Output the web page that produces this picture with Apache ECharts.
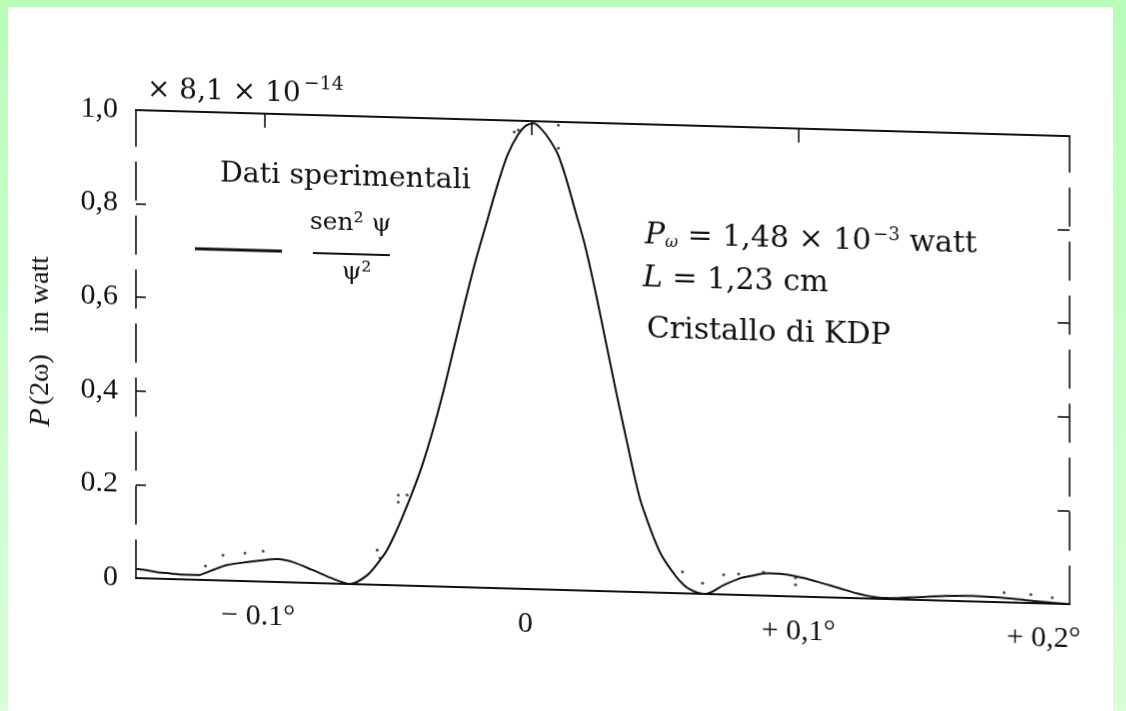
<!DOCTYPE html>
<html>
<head>
<meta charset="utf-8">
<script src="https://cdn.jsdelivr.net/npm/echarts@6/dist/echarts.min.js"></script>
<style>
  html, body { margin: 0; padding: 0; width: 1126px; height: 711px; overflow: hidden;
    background: linear-gradient(#b9fdb9, #d9fed9); }
  #sheet { position: absolute; left: 8px; top: 7px; right: 13px; bottom: 0; background: #fff; }
  #chart { position: absolute; left: 0; top: 0; width: 1126px; height: 711px;
    transform: skewY(1.6deg); transform-origin: 563px 355px; }
</style>
</head>
<body>
<div id="sheet"></div>
<div id="chart"></div>
<script>
// Second-harmonic power versus crystal angle: measured points and the sen²ψ/ψ² curve.
const SERIF = "'DejaVu Serif', serif";
const NUMF = "'Liberation Serif', serif";
const INK = '#111';

// angle (degrees) and normalised power of the theoretical curve
const psiDeg = [
  -0.148, -0.145, -0.140, -0.135, -0.130, -0.125, -0.120, -0.114, -0.106, -0.100,
  -0.095, -0.089, -0.082, -0.075, -0.070, -0.068, -0.0614, -0.0566, -0.054, -0.051,
  -0.048, -0.0445, -0.041, -0.037, -0.033, -0.029, -0.025, -0.021, -0.017, -0.013,
  -0.009, -0.005, -0.002, 0.001, 0.004, 0.007, 0.010, 0.013, 0.0165, 0.020,
  0.024, 0.028, 0.032, 0.036, 0.0385, 0.0408, 0.043, 0.0457, 0.0483, 0.051,
  0.0532, 0.0558, 0.0584, 0.062, 0.0652, 0.072, 0.0783, 0.082, 0.0884, 0.0944,
  0.1019, 0.1102, 0.115, 0.122, 0.128, 0.134, 0.145, 0.155, 0.165, 0.175,
  0.185, 0.195, 0.2015
];
const senCurve = [
  0.020, 0.018, 0.014, 0.012, 0.010, 0.010, 0.020, 0.033, 0.041, 0.046,
  0.049, 0.043, 0.028, 0.012, 0.002, 0.000, 0.020, 0.053, 0.075, 0.110,
  0.150, 0.200, 0.255, 0.330, 0.415, 0.510, 0.605, 0.695, 0.775, 0.855,
  0.925, 0.970, 0.990, 0.995, 0.982, 0.960, 0.930, 0.880, 0.810, 0.740,
  0.640, 0.530, 0.420, 0.315, 0.250, 0.197, 0.160, 0.119, 0.085, 0.060,
  0.043, 0.025, 0.012, 0.003, 0.000, 0.020, 0.036, 0.041, 0.048, 0.047,
  0.040, 0.028, 0.021, 0.010, 0.004, 0.002, 0.006, 0.010, 0.012, 0.010,
  0.006, 0.002, 0.000
];

// measured points (Dati sperimentali)
const expPsi = [
  -0.122, -0.1154, -0.1072, -0.1004, -0.0577, -0.0566, -0.0498, -0.0498, -0.0465, -0.0064,
  -0.0049, 0.0101, 0.0101, 0.0566, 0.0641, 0.072, 0.0776, 0.0869, 0.0989, 0.0989,
  0.177, 0.187, 0.195
];
const expPower = [
  0.030, 0.054, 0.060, 0.065, 0.074, 0.057, 0.193, 0.178, 0.194, 0.976,
  0.980, 0.993, 0.944, 0.046, 0.023, 0.042, 0.045, 0.050, 0.040, 0.025,
  0.021, 0.018, 0.013
];

const xTicks = [-0.1, 0, 0.1, 0.2];
const xTickText = ['− 0.1°', '0', '+ 0,1°', '+ 0,2°'];
const topTicks = [-0.1, 0, 0.1];
const yTickText = ['0', '0.2', '0,4', '0,6', '0,8', '1,0'];
const X_MIN = -0.148, X_MAX = 0.2015;

const tickIndex = v => xTicks.findIndex(t => Math.abs(t - v) < 1e-9);

// the end labels sit a little left of their ticks, as typeset
const xLabelRich = {};
[12, 12, 0, 44].forEach((shift, i) => {
  xLabelRich['t' + i] = { fontFamily: NUMF, fontSize: 30, color: INK, padding: [0, shift, 0, 0] };
});

const chart = echarts.init(document.getElementById('chart'), null, { renderer: 'canvas' });

const axisInk = { color: INK, width: 2 };
const brokenInk = { color: INK, width: 1.6, type: [38, 16] };
const tickInk = { color: INK, width: 1.6 };

chart.setOption({
  animation: false,
  backgroundColor: 'transparent',
  grid: { left: 136, right: 56, top: 122, bottom: 121 },
  xAxis: [
    {
      type: 'value', min: X_MIN, max: X_MAX, position: 'bottom',
      axisLine: { onZero: false, lineStyle: axisInk },
      axisTick: { show: false },
      splitLine: { show: false },
      axisLabel: {
        customValues: xTicks,
        formatter: v => { const i = tickIndex(v); return i >= 0 ? '{t' + i + '|' + xTickText[i] + '}' : ''; },
        rich: xLabelRich,
        margin: 20
      }
    },
    {
      type: 'value', min: X_MIN, max: X_MAX, position: 'top',
      axisLine: { onZero: false, lineStyle: axisInk },
      axisTick: { show: true, inside: true, length: 14, customValues: topTicks, lineStyle: tickInk },
      axisLabel: { show: false },
      splitLine: { show: false }
    }
  ],
  yAxis: [
    {
      type: 'value', min: 0, max: 1, interval: 0.2, position: 'left',
      axisLine: { show: true, onZero: false, lineStyle: brokenInk },
      axisTick: { show: true, inside: true, length: 10, lineStyle: tickInk },
      splitLine: { show: false },
      axisLabel: {
        formatter: v => yTickText[Math.round(v / 0.2)],
        fontFamily: NUMF, fontSize: 30, color: INK, margin: 18
      },
      name: '{i|P} {r|(2ω)   in watt}',
      nameLocation: 'middle', nameRotate: 90, nameGap: 80,
      nameTextStyle: {
        rich: {
          i: { fontFamily: NUMF, fontStyle: 'italic', fontSize: 30, color: INK },
          r: { fontFamily: NUMF, fontSize: 28, color: INK }
        }
      }
    },
    {
      type: 'value', min: 0, max: 1, interval: 0.2, position: 'right',
      axisLine: { show: true, onZero: false, lineStyle: brokenInk },
      axisTick: { show: true, inside: true, length: 12, lineStyle: tickInk },
      axisLabel: { show: false },
      splitLine: { show: false }
    }
  ],
  series: [
    {
      name: 'sen² ψ / ψ²', type: 'line', xAxisIndex: 0, yAxisIndex: 0,
      data: psiDeg.map((x, i) => [x, senCurve[i]]),
      showSymbol: false, smooth: 0.3,
      lineStyle: { color: INK, width: 2 }, z: 3
    },
    {
      name: 'Dati sperimentali', type: 'scatter', xAxisIndex: 0, yAxisIndex: 0,
      data: expPsi.map((x, i) => [x, expPower[i]]),
      symbol: 'circle', symbolSize: 3,
      itemStyle: { color: '#222' }, z: 4
    }
  ],
  graphic: [
    { type: 'text', left: 147, top: 82, style: {
        text: '{a|× 8,1 × 10}{s|−14}',
        rich: {
          a: { fontFamily: SERIF, fontSize: 28, fill: INK, verticalAlign: 'bottom', lineHeight: 34 },
          s: { fontFamily: SERIF, fontSize: 19, fill: INK, verticalAlign: 'top', lineHeight: 34, padding: [0, 0, 14, 3] }
        } } },
    { type: 'text', left: 220, top: 169, style: {
        text: 'Dati sperimentali', fontFamily: SERIF, fontSize: 28.5, fill: INK } },
    { type: 'line', shape: { x1: 195, y1: 259, x2: 282, y2: 259 }, style: { stroke: INK, lineWidth: 3 } },
    { type: 'text', left: 310, top: 217, style: {
        text: 'sen² ψ', fontFamily: SERIF, fontSize: 25, fill: INK } },
    { type: 'line', shape: { x1: 313, y1: 260, x2: 390, y2: 260 }, style: { stroke: INK, lineWidth: 2 } },
    { type: 'text', left: 342, top: 266, style: {
        text: 'ψ²', fontFamily: SERIF, fontSize: 25, fill: INK } },
    { type: 'text', left: 645, top: 217, style: {
        text: '{i|P}{sub|ω}{a| = 1,48 × 10}{s|−3}{a| watt}',
        rich: {
          i: { fontFamily: SERIF, fontStyle: 'italic', fontSize: 30, fill: INK },
          sub: { fontFamily: SERIF, fontStyle: 'italic', fontSize: 16, fill: INK, padding: [14, 0, 0, 0] },
          a: { fontFamily: SERIF, fontSize: 30, fill: INK },
          s: { fontFamily: SERIF, fontSize: 18, fill: INK, padding: [0, 0, 14, 2] }
        } } },
    { type: 'text', left: 643, top: 261, style: {
        text: '{i|L}{a| = 1,23 cm}',
        rich: {
          i: { fontFamily: SERIF, fontStyle: 'italic', fontSize: 30, fill: INK },
          a: { fontFamily: SERIF, fontSize: 30, fill: INK }
        } } },
    { type: 'text', left: 647, top: 312, style: {
        text: 'Cristallo di KDP', fontFamily: SERIF, fontSize: 30, fill: INK } }
  ]
});
</script>
</body>
</html>
